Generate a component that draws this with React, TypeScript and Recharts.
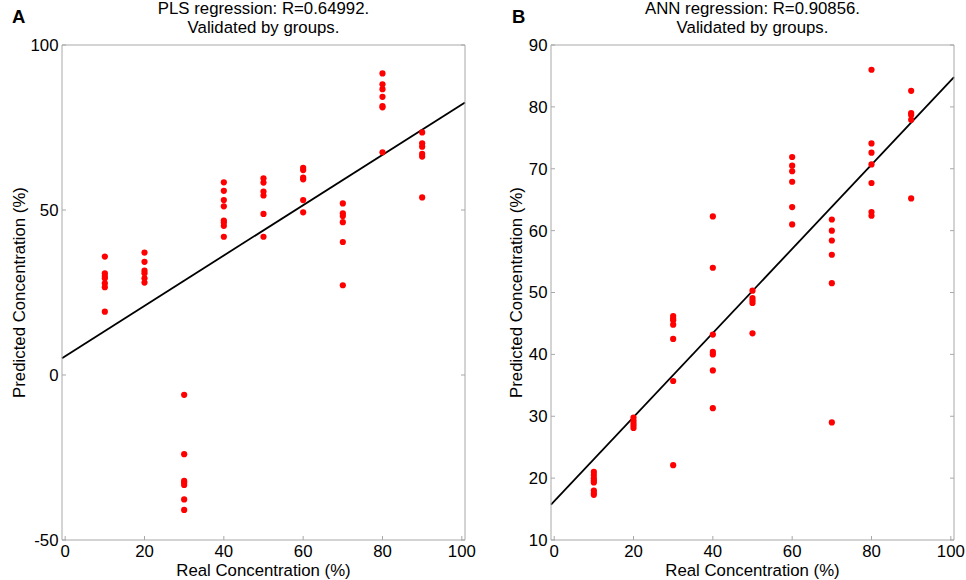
import { ScatterChart, Scatter, XAxis, YAxis, ReferenceLine } from "recharts";

const FONT = '"Liberation Sans", Arial, sans-serif';

// real concentration of each validation group (%)
const REAL_CONC = [10, 20, 30, 40, 50, 60, 70, 80, 90];

// predicted values per group
const PLS_PRED = [
  [35.9, 30.8, 30.0, 29.3, 27.8, 26.6, 19.2],
  [37.1, 34.3, 31.6, 30.8, 29.3, 28.0],
  [-6.0, -24.0, -32.1, -32.6, -33.3, -37.7, -40.9],
  [58.4, 55.8, 53.0, 51.1, 46.8, 46.2, 45.2, 41.9],
  [59.6, 58.3, 55.6, 54.4, 48.8, 41.9],
  [62.8, 62.1, 59.8, 59.3, 53.0, 49.3],
  [52.0, 49.0, 48.2, 46.3, 40.3, 27.2],
  [91.4, 88.1, 86.6, 84.3, 81.5, 81.1, 67.5],
  [73.5, 70.2, 69.2, 67.0, 66.2, 53.8],
];

const ANN_PRED = [
  [21.0, 20.5, 20.0, 19.6, 19.3, 18.0, 17.6, 17.3],
  [29.8, 29.3, 28.9, 28.5, 28.1],
  [46.2, 45.8, 45.5, 44.8, 42.5, 35.7, 22.1],
  [62.3, 54.0, 43.2, 40.4, 40.0, 37.4, 31.3],
  [50.3, 49.1, 48.7, 48.3, 43.4],
  [71.9, 70.5, 69.6, 67.9, 63.8, 61.0],
  [61.8, 60.0, 58.4, 56.1, 51.5, 29.0],
  [86.0, 74.1, 72.6, 70.7, 67.7, 63.0, 62.4],
  [82.6, 79.0, 78.7, 77.9, 65.2],
];

// fitted regression lines (end points at the axis limits)
const PLS_FIT = [
  { x: -0.8, y: 5.1 },
  { x: 100.8, y: 82.6 },
];
const ANN_FIT = [
  { x: -0.8, y: 15.7 },
  { x: 100.8, y: 84.8 },
];

const X_DOMAIN = [-0.8, 100.8];
const X_TICKS = [0, 20, 40, 60, 80, 100];
const PLS_Y_DOMAIN = [-50, 100];
const PLS_Y_TICKS = [-50, 0, 50, 100];
const ANN_Y_DOMAIN = [10, 90];
const ANN_Y_TICKS = [10, 20, 30, 40, 50, 60, 70, 80, 90];

const AXIS_COLOR = "#a8a8a8";
const FS = 16.8;
const tickStyle = { fontSize: FS, fill: "#000", fontFamily: FONT };

const toPoints = (groups: number[][]) =>
  groups.flatMap((vals, i) => vals.map((y) => ({ x: REAL_CONC[i], y })));

const Dot = (props: any) => <circle cx={props.cx} cy={props.cy} r={3.1} fill="#ff0000" />;

type PanelProps = {
  left: number;
  marginLeft: number;
  marginRight: number;
  points: { x: number; y: number }[];
  fit: { x: number; y: number }[];
  yDomain: number[];
  yTicks: number[];
};

function Panel({ left, marginLeft, marginRight, points, fit, yDomain, yTicks }: PanelProps) {
  return (
    <div style={{ position: "absolute", left, top: 0 }}>
      <ScatterChart
        width={483}
        height={580}
        margin={{ top: 35, right: marginRight, bottom: 10, left: marginLeft }}
      >
        <XAxis
          type="number"
          dataKey="x"
          domain={X_DOMAIN}
          ticks={X_TICKS}
          allowDataOverflow
          height={30}
          stroke={AXIS_COLOR}
          tickSize={-4}
          tickMargin={9.5}
          tick={tickStyle}
        />
        <XAxis
          xAxisId="top"
          orientation="top"
          type="number"
          domain={X_DOMAIN}
          ticks={X_TICKS}
          allowDataOverflow
          height={10}
          stroke={AXIS_COLOR}
          tickSize={-4}
          tickFormatter={() => ""}
        />
        <YAxis
          type="number"
          dataKey="y"
          domain={yDomain}
          ticks={yTicks}
          allowDataOverflow
          width={40}
          stroke={AXIS_COLOR}
          tickSize={-4}
          tickMargin={7.5}
          tick={tickStyle}
        />
        <YAxis
          yAxisId="right"
          orientation="right"
          type="number"
          domain={yDomain}
          ticks={yTicks}
          allowDataOverflow
          width={10}
          stroke={AXIS_COLOR}
          tickSize={-4}
          tickFormatter={() => ""}
        />
        <ReferenceLine segment={fit} stroke="#000" strokeWidth={1.8} ifOverflow="visible" />
        <Scatter data={points} shape={Dot} isAnimationActive={false} />
      </ScatterChart>
    </div>
  );
}

export default function App() {
  return (
    <div
      style={{
        position: "absolute",
        left: 0,
        top: 0,
        width: 966,
        height: 580,
        background: "#fff",
        fontFamily: FONT,
      }}
    >
      <Panel
        left={0}
        marginLeft={22}
        marginRight={8}
        points={toPoints(PLS_PRED)}
        fit={PLS_FIT}
        yDomain={PLS_Y_DOMAIN}
        yTicks={PLS_Y_TICKS}
      />
      <Panel
        left={483}
        marginLeft={28}
        marginRight={2}
        points={toPoints(ANN_PRED)}
        fit={ANN_FIT}
        yDomain={ANN_Y_DOMAIN}
        yTicks={ANN_Y_TICKS}
      />
      <svg
        width={966}
        height={580}
        style={{ position: "absolute", left: 0, top: 0, pointerEvents: "none" }}
        fontFamily={FONT}
        fontSize={FS}
      >
        <text x={12} y={22.7} fontSize={18.5} fontWeight="bold">A</text>
        <text x={512} y={22.7} fontSize={18.5} fontWeight="bold">B</text>
        <text x={263.5} y={14.2} textAnchor="middle">PLS regression: R=0.64992.</text>
        <text x={263.5} y={32.6} textAnchor="middle">Validated by groups.</text>
        <text x={752.5} y={14.2} textAnchor="middle">ANN regression: R=0.90856.</text>
        <text x={752.5} y={32.6} textAnchor="middle">Validated by groups.</text>
        <text x={263.5} y={576} textAnchor="middle">Real Concentration (%)</text>
        <text x={752.5} y={576} textAnchor="middle">Real Concentration (%)</text>
        <text x={25} y={292.5} textAnchor="middle" transform="rotate(-90 25 292.5)">
          Predicted Concentration (%)
        </text>
        <text x={522} y={292.5} textAnchor="middle" transform="rotate(-90 522 292.5)">
          Predicted Concentration (%)
        </text>
      </svg>
    </div>
  );
}
